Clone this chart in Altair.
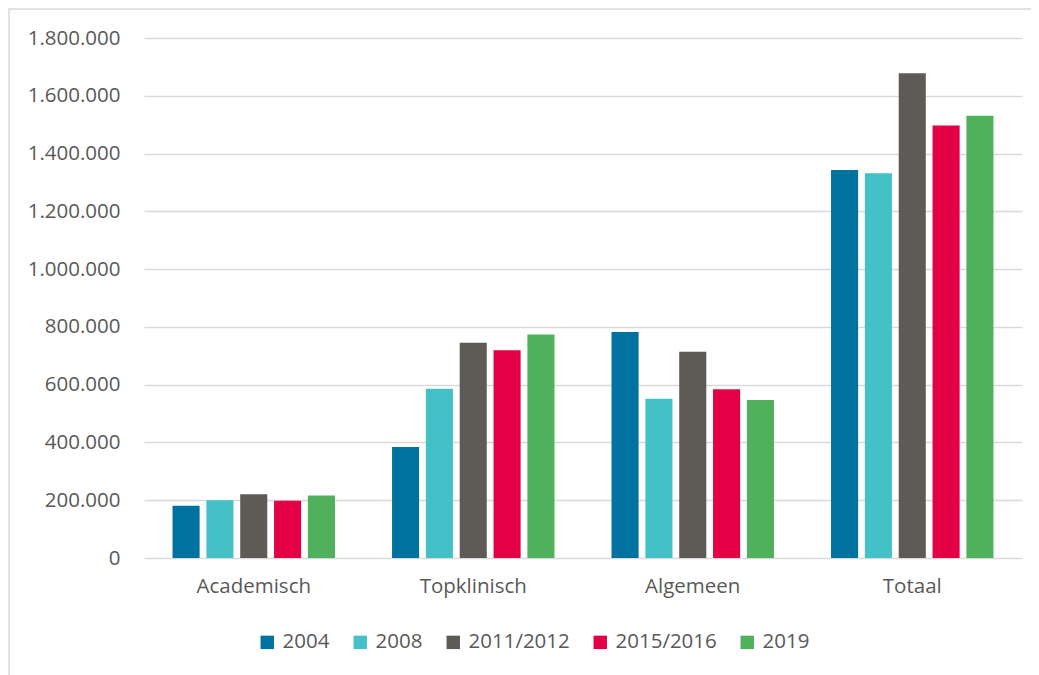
import altair as alt
import pandas as pd

categories = ["Academisch", "Topklinisch", "Algemeen", "Totaal"]
series = ["2004", "2008", "2011/2012", "2015/2016", "2019"]
colors = ["#00729F", "#43C1C6", "#5E5A56", "#E30045", "#4FB15C"]

v2004 = [181000, 384000, 782000, 1343000]
v2008 = [200000, 586000, 551000, 1332000]
v2011 = [221000, 745000, 714000, 1678000]
v2015 = [198000, 719000, 584000, 1497000]
v2019 = [216000, 774000, 547000, 1531000]

rows = []
for s, vals in zip(series, [v2004, v2008, v2011, v2015, v2019]):
    for c, v in zip(categories, vals):
        rows.append({"categorie": c, "jaar": s, "waarde": v})
df = pd.DataFrame(rows)

W, H = 878, 520
FONT = "Open Sans"
FS = 20.5
TXT = "#595959"
GRID = "#D9D9D9"

bars = alt.Chart(df).mark_bar().encode(
    x=alt.X("categorie:N", sort=categories,
            scale=alt.Scale(paddingInner=0.26, paddingOuter=0.13),
            axis=alt.Axis(title=None, labelAngle=0, ticks=False, domain=False, grid=False,
                          labelPadding=18, labelFontSize=FS, labelColor=TXT,
                          labelFont=FONT)),
    xOffset=alt.XOffset("jaar:N", sort=series,
                        scale=alt.Scale(paddingInner=0.2, paddingOuter=0)),
    y=alt.Y("waarde:Q",
            scale=alt.Scale(domain=[0, 1800000], nice=False),
            axis=alt.Axis(title=None, values=list(range(0, 1800001, 200000)),
                          ticks=False, domain=False, labelPadding=24,
                          labelFontSize=FS, labelColor=TXT, labelFont=FONT,
                          gridColor=GRID, gridWidth=1.5,
                          labelExpr="replace(replace(format(datum.value, ',d'), ',', '.'), ',', '.')")),
    color=alt.Color("jaar:N", sort=series,
                    scale=alt.Scale(domain=series, range=colors),
                    legend=alt.Legend(title=None, orient="none", direction="horizontal",
                                      legendX=113, legendY=594,
                                      symbolType="square", symbolSize=180,
                                      symbolStrokeWidth=0,
                                      labelFontSize=FS, labelColor=TXT, labelFont=FONT,
                                      columnPadding=20, labelOffset=5)),
)

frame = alt.Chart(alt.Data(values=[{"a": 1}])).mark_rect(
    fill=None, stroke=GRID, strokeWidth=1.5
).encode(
    x=alt.value(-135), y=alt.value(-29), x2=alt.value(1200), y2=alt.value(900)
)

chart = alt.layer(frame, bars).properties(
    width=W, height=H,
    background="white",
    autosize=alt.AutoSizeParams(type="none"),
    padding={"left": 136, "top": 30, "right": 9, "bottom": 117},
).configure_view(strokeWidth=0, stroke="transparent")

chart.save("out.html", embed_options={"renderer": "svg", "actions": False})
